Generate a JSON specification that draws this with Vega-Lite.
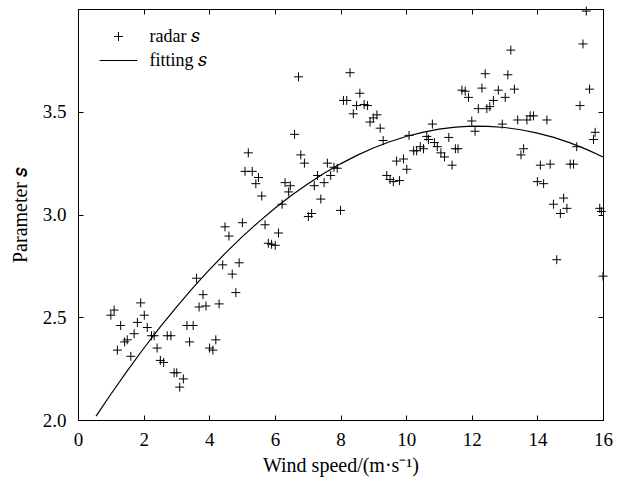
{
  "$schema": "https://vega.github.io/schema/vega-lite/v6.json",
  "width": 525,
  "height": 411,
  "autosize": "none",
  "padding": {"left": 78, "top": 9, "right": 17, "bottom": 63},
  "background": "white",
  "config": {
    "font": "Liberation Serif",
    "view": {"stroke": "black", "strokeWidth": 1},
    "axis": {
      "domainColor": "black", "tickColor": "black", "labelColor": "black", "titleColor": "black",
      "labelFont": "Liberation Serif", "titleFont": "Liberation Serif",
      "labelFontSize": 19, "titleFontSize": 20, "titleFontWeight": "normal",
      "grid": false, "tickSize": -5, "domainWidth": 1, "tickWidth": 1, "labelFlush": false
    }
  },
  "datasets": {
    "radar": [
      {"x":1.00,"y":2.51},{"x":1.10,"y":2.535},{"x":1.20,"y":2.34},{"x":1.30,"y":2.46},{"x":1.42,"y":2.38},
      {"x":1.50,"y":2.39},{"x":1.61,"y":2.31},{"x":1.71,"y":2.42},{"x":1.81,"y":2.475},{"x":1.91,"y":2.57},
      {"x":2.02,"y":2.51},{"x":2.11,"y":2.45},{"x":2.24,"y":2.41},{"x":2.32,"y":2.41},{"x":2.41,"y":2.35},
      {"x":2.51,"y":2.29},{"x":2.61,"y":2.28},{"x":2.72,"y":2.41},{"x":2.83,"y":2.41},{"x":2.93,"y":2.23},
      {"x":3.01,"y":2.23},{"x":3.10,"y":2.16},{"x":3.21,"y":2.20},{"x":3.32,"y":2.46},{"x":3.51,"y":2.46},
      {"x":3.40,"y":2.38},{"x":3.61,"y":2.69},{"x":3.81,"y":2.61},{"x":3.69,"y":2.55},{"x":3.90,"y":2.555},
      {"x":4.01,"y":2.35},{"x":4.11,"y":2.34},{"x":4.20,"y":2.39},{"x":4.30,"y":2.565},{"x":4.41,"y":2.755},
      {"x":4.70,"y":2.71},{"x":4.91,"y":2.765},{"x":4.81,"y":2.62},{"x":4.48,"y":2.94},{"x":4.60,"y":2.895},
      {"x":5.01,"y":2.96},{"x":5.19,"y":3.30},{"x":5.09,"y":3.21},{"x":5.31,"y":3.21},{"x":5.50,"y":3.18},
      {"x":5.42,"y":3.15},{"x":5.60,"y":3.09},{"x":5.70,"y":2.95},{"x":5.80,"y":2.86},{"x":5.90,"y":2.855},
      {"x":6.01,"y":2.85},{"x":6.11,"y":2.91},{"x":6.22,"y":3.05},{"x":6.31,"y":3.155},{"x":6.47,"y":3.14},
      {"x":6.42,"y":3.11},{"x":6.60,"y":3.39},{"x":6.72,"y":3.67},{"x":6.79,"y":3.29},{"x":6.90,"y":3.25},
      {"x":7.02,"y":2.99},{"x":7.12,"y":3.005},{"x":7.20,"y":3.14},{"x":7.30,"y":3.19},{"x":7.40,"y":3.075},
      {"x":7.50,"y":3.155},{"x":7.60,"y":3.25},{"x":7.70,"y":3.19},{"x":7.80,"y":3.23},{"x":7.90,"y":3.225},
      {"x":8.00,"y":3.02},{"x":8.09,"y":3.555},{"x":8.19,"y":3.555},{"x":8.29,"y":3.69},{"x":8.39,"y":3.49},
      {"x":8.49,"y":3.53},{"x":8.59,"y":3.59},{"x":8.72,"y":3.535},{"x":8.82,"y":3.53},{"x":8.90,"y":3.45},
      {"x":9.00,"y":3.47},{"x":9.11,"y":3.485},{"x":9.21,"y":3.42},{"x":9.30,"y":3.36},{"x":9.41,"y":3.19},
      {"x":9.51,"y":3.17},{"x":9.61,"y":3.16},{"x":9.80,"y":3.165},{"x":9.71,"y":3.26},{"x":9.92,"y":3.27},
      {"x":10.02,"y":3.22},{"x":10.09,"y":3.385},{"x":10.23,"y":3.31},{"x":10.32,"y":3.31},{"x":10.43,"y":3.33},
      {"x":10.53,"y":3.32},{"x":10.63,"y":3.38},{"x":10.68,"y":3.365},{"x":10.80,"y":3.44},{"x":10.86,"y":3.35},
      {"x":10.95,"y":3.33},{"x":11.06,"y":3.30},{"x":11.17,"y":3.28},{"x":11.30,"y":3.375},{"x":11.40,"y":3.24},
      {"x":11.50,"y":3.32},{"x":11.58,"y":3.32},{"x":11.70,"y":3.605},{"x":11.80,"y":3.60},{"x":11.90,"y":3.57},
      {"x":12.00,"y":3.455},{"x":12.10,"y":3.405},{"x":12.20,"y":3.515},{"x":12.31,"y":3.615},{"x":12.41,"y":3.685},
      {"x":12.46,"y":3.515},{"x":12.55,"y":3.525},{"x":12.66,"y":3.555},{"x":12.81,"y":3.605},{"x":12.93,"y":3.44},
      {"x":13.02,"y":3.57},{"x":13.10,"y":3.68},{"x":13.19,"y":3.80},{"x":13.30,"y":3.61},{"x":13.40,"y":3.46},
      {"x":13.50,"y":3.29},{"x":13.58,"y":3.32},{"x":13.68,"y":3.46},{"x":13.78,"y":3.48},{"x":13.88,"y":3.48},
      {"x":14.00,"y":3.16},{"x":14.09,"y":3.24},{"x":14.19,"y":3.15},{"x":14.29,"y":3.46},{"x":14.39,"y":3.245},
      {"x":14.49,"y":3.05},{"x":14.59,"y":2.78},{"x":14.70,"y":3.005},{"x":14.80,"y":3.08},{"x":14.90,"y":3.03},
      {"x":15.00,"y":3.245},{"x":15.10,"y":3.245},{"x":15.20,"y":3.33},{"x":15.30,"y":3.53},{"x":15.39,"y":3.83},
      {"x":15.49,"y":3.99},{"x":15.59,"y":3.61},{"x":15.71,"y":3.365},{"x":15.76,"y":3.40},{"x":15.90,"y":3.03},
      {"x":15.95,"y":3.015},{"x":16.00,"y":2.70}
    ],
    "fit": [
      {"x":0.55,"y":2.0185},{"x":1.0,"y":2.1254},{"x":1.5,"y":2.2393},{"x":2.0,"y":2.3480},{"x":2.5,"y":2.4515},
      {"x":3.0,"y":2.5497},{"x":3.5,"y":2.6428},{"x":4.0,"y":2.7307},{"x":4.5,"y":2.8134},{"x":5.0,"y":2.8909},
      {"x":5.5,"y":2.9631},{"x":6.0,"y":3.0302},{"x":6.5,"y":3.0921},{"x":7.0,"y":3.1488},{"x":7.5,"y":3.2003},
      {"x":8.0,"y":3.2465},{"x":8.5,"y":3.2876},{"x":9.0,"y":3.3235},{"x":9.5,"y":3.3542},{"x":10.0,"y":3.3797},
      {"x":10.5,"y":3.3999},{"x":11.0,"y":3.4150},{"x":11.5,"y":3.4249},{"x":12.0,"y":3.4296},{"x":12.5,"y":3.4291},
      {"x":13.0,"y":3.4233},{"x":13.5,"y":3.4124},{"x":14.0,"y":3.3963},{"x":14.5,"y":3.3750},{"x":15.0,"y":3.3485},
      {"x":15.5,"y":3.3167},{"x":16.0,"y":3.2798}
    ]
  },
  "layer": [
    {
      "data": {"name": "fit"},
      "mark": {"type": "line", "color": "black", "strokeWidth": 1.2},
      "encoding": {
        "x": {"field": "x", "type": "quantitative", "scale": {"domain": [0, 16], "nice": false},
              "axis": {"orient": "top", "labels": false, "title": null, "values": [0,2,4,6,8,10,12,14,16]}},
        "y": {"field": "y", "type": "quantitative", "scale": {"domain": [2, 4], "nice": false, "zero": false},
              "axis": {"orient": "right", "labels": false, "title": null, "values": [2,2.5,3,3.5,4]}}
      }
    },
    {
      "data": {"name": "radar"},
      "transform": [{"calculate": "'radar 𝑠'", "as": "series"}],
      "mark": {"type": "point", "filled": false, "stroke": "black", "strokeWidth": 1, "opacity": 1, "size": 81},
      "encoding": {
        "x": {"field": "x", "type": "quantitative", "scale": {"domain": [0, 16], "nice": false},
              "axis": {"orient": "bottom", "title": "Wind speed/(m·s⁻¹)", "values": [0,2,4,6,8,10,12,14,16], "labelPadding": 15, "titlePadding": 6}},
        "y": {"field": "y", "type": "quantitative", "scale": {"domain": [2, 4], "nice": false, "zero": false},
              "axis": {"orient": "left", "title": "Parameter 𝑠", "values": [2,2.5,3,3.5], "format": ".1f", "labelPadding": 17, "titlePadding": 12}},
        "shape": {
          "field": "series", "type": "nominal",
          "scale": {"domain": ["radar 𝑠", "fitting 𝑠"], "range": ["M-1,0L1,0M0,-1L0,1", "M-4.2,0L4.2,0"]},
          "legend": {
            "orient": "none", "legendX": 31.5, "legendY": 18.5, "title": null, "padding": 0,
            "symbolSize": 81, "symbolStrokeColor": "black", "symbolStrokeWidth": 1, "symbolFillColor": "transparent",
            "labelFont": "Liberation Serif", "labelFontSize": 18, "labelColor": "black", "labelOffset": 22,
            "rowPadding": 6
          }
        }
      }
    }
  ]
}
